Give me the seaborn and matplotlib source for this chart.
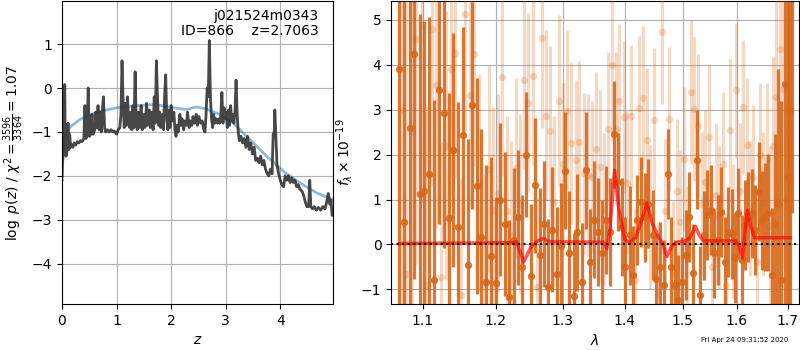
import matplotlib
matplotlib.use("Agg")
import matplotlib.pyplot as plt
from matplotlib.ticker import FixedLocator, FormatStrFormatter, NullLocator
import numpy as np
import pandas as pd
import seaborn as sns

# ---------------- left panel data: log p(z) ----------------
z_grid = [0.00, 0.01, 0.02, 0.035, 0.05, 0.06, 0.075, 0.09, 0.11, 0.125,
          0.14, 0.16, 0.18, 0.20, 0.22, 0.25, 0.28, 0.31, 0.34, 0.37,
          0.40, 0.42, 0.44, 0.46, 0.48, 0.50, 0.53, 0.55, 0.57, 0.60,
          0.62, 0.64, 0.66, 0.68, 0.70, 0.72, 0.74, 0.76, 0.78, 0.80,
          0.83, 0.86, 0.90, 0.93, 0.96, 1.00, 1.03, 1.06, 1.08, 1.10,
          1.12, 1.14, 1.16, 1.18, 1.20, 1.22, 1.24, 1.26, 1.28, 1.30,
          1.32, 1.34, 1.36, 1.38, 1.40, 1.42, 1.45, 1.47, 1.50, 1.52,
          1.55, 1.57, 1.60, 1.62, 1.64, 1.67, 1.69, 1.71, 1.73, 1.75,
          1.77, 1.79, 1.81, 1.84, 1.86, 1.88, 1.90, 1.92, 1.94, 1.96,
          1.98, 2.00, 2.02, 2.05, 2.07, 2.09, 2.11, 2.13, 2.16, 2.18,
          2.20, 2.23, 2.25, 2.28, 2.30, 2.33, 2.35, 2.38, 2.40, 2.43,
          2.46, 2.48, 2.51, 2.54, 2.57, 2.60, 2.62, 2.64, 2.66, 2.68,
          2.70, 2.72, 2.74, 2.76, 2.78, 2.80, 2.82, 2.85, 2.87, 2.89,
          2.91, 2.93, 2.95, 2.97, 2.99, 3.01, 3.03, 3.05, 3.07, 3.09,
          3.11, 3.13, 3.15, 3.17, 3.19, 3.21, 3.23, 3.25, 3.28, 3.31,
          3.34, 3.37, 3.40, 3.43, 3.46, 3.49, 3.52, 3.55, 3.58, 3.61,
          3.64, 3.67, 3.70, 3.73, 3.76, 3.79, 3.82, 3.85, 3.87, 3.89,
          3.90, 3.92, 3.94, 3.97, 4.00, 4.03, 4.06, 4.09, 4.12, 4.15,
          4.18, 4.21, 4.24, 4.27, 4.30, 4.33, 4.36, 4.40, 4.43, 4.46,
          4.49, 4.52, 4.54, 4.56, 4.59, 4.62, 4.66, 4.70, 4.74, 4.78,
          4.82, 4.85, 4.88, 4.91, 4.93, 4.95, 4.97]
log_pz = [-2.10, -1.70, -1.55, -1.50, 0.08, -1.30, -1.55, -1.45, -0.80, -1.40,
          -1.05, -1.35, -1.30, -1.35, -1.25, -1.30, -1.22, -1.25, -1.20, -1.22,
          -1.15, -0.40, -1.15, -0.95, 0.00, -1.10, -1.05, -0.60, -1.05, -0.95,
          -0.55, -0.90, -0.40, -0.95, -0.55, -1.00, -0.50, -0.20, -0.90, -1.00,
          -0.95, -1.00, -0.95, -1.00, -0.98, -1.05, -0.95, -0.90, -0.60, 0.62,
          -0.30, -0.90, -0.35, -0.85, -0.20, -0.75, -0.90, -0.55, -0.95, -0.40,
          -0.90, 0.37, -0.80, -0.95, -0.55, -0.90, -0.40, -0.95, -0.60, -0.90,
          -0.35, -0.85, -0.50, -0.90, -0.55, -0.95, -0.20, -0.80, 0.62, -0.20,
          -0.85, -0.55, -0.90, -0.60, -0.95, -0.20, 0.30, -0.70, -0.95, -0.50,
          -0.90, -0.40, -0.75, -0.55, -0.95, -1.10, -0.85, -1.00, -0.60, -0.85,
          -0.70, -0.95, -0.75, -0.85, -0.55, -0.90, -0.75, -0.85, -0.65, -0.80,
          -0.60, -0.85, -0.65, -0.80, -0.75, -0.95, -1.00, -0.60, 0.00, -0.20,
          1.08, -0.20, -0.70, -0.90, -0.60, -0.80, -0.70, -0.80, -0.70, -0.80,
          -0.65, -0.10, -0.80, -0.45, -0.70, -0.55, -0.90, -0.50, -0.85, -0.40,
          -0.75, -0.60, -0.80, -0.55, 0.18, -0.60, -1.00, -1.20, -1.10, -1.25,
          -1.15, -1.35, -1.10, -1.40, -1.25, -1.50, -1.35, -1.65, -1.60, -1.70,
          -1.55, -1.75, -1.65, -1.85, -1.95, -2.00, -1.85, -1.95, -1.05, -1.00,
          -0.50, -1.10, -1.75, -1.95, -2.10, -2.20, -2.25, -2.00, -2.10, -2.00,
          -2.15, -2.05, -2.15, -2.10, -2.25, -2.20, -2.30, -2.35, -2.45, -2.60,
          -2.70, -2.70, -2.10, -2.70, -2.75, -2.70, -2.78, -2.72, -2.78, -2.70,
          -2.75, -2.60, -2.40, -2.65, -2.55, -2.90, -2.85]

# smooth chi^2-based curve
z_chi = [0.00, 0.05, 0.14, 0.32, 0.63, 1.00, 1.30, 1.61, 1.73, 1.91,
         2.10, 2.28, 2.46, 2.65, 2.89, 3.14, 3.44, 3.75, 4.06, 4.36,
         4.67, 4.97]
chi_curve = [-1.60, -1.10, -0.90, -0.72, -0.55, -0.45, -0.41, -0.38, -0.38, -0.42,
             -0.46, -0.49, -0.43, -0.48, -0.60, -0.80, -1.17, -1.55, -1.90, -2.16,
             -2.39, -2.54]

# ---------------- right panel data: spectrum ----------------
wave_a = [1.070, 1.076, 1.083, 1.089, 1.096, 1.102, 1.109, 1.115, 1.122, 1.128,
          1.135, 1.141, 1.148, 1.154, 1.161, 1.167, 1.174, 1.180, 1.187, 1.193,
          1.200, 1.206, 1.213, 1.219, 1.226, 1.232, 1.239, 1.245, 1.252, 1.258,
          1.265, 1.271, 1.278, 1.284, 1.291, 1.297, 1.304, 1.310, 1.317, 1.323,
          1.330, 1.336, 1.343, 1.349, 1.356, 1.362, 1.369, 1.375, 1.382, 1.388,
          1.395, 1.401, 1.408, 1.414, 1.421, 1.427, 1.434, 1.440, 1.447, 1.453,
          1.460, 1.466, 1.473, 1.479, 1.486, 1.492, 1.499, 1.505, 1.512, 1.518,
          1.525, 1.531, 1.538, 1.544, 1.551, 1.557, 1.564, 1.570, 1.577, 1.583,
          1.590, 1.596, 1.603, 1.609, 1.616, 1.622, 1.629, 1.635, 1.642, 1.648,
          1.655, 1.661, 1.668, 1.674, 1.681, 1.687, 1.694, 1.700, 1.704, 1.708]
flux_a = [3.90, 0.50, 2.60, 4.23, 1.13, 1.18, 1.57, -0.79, 3.45, 2.92,
          0.58, 2.10, 0.38, 2.44, -0.46, 3.10, 1.30, 0.17, -0.83, -0.26,
          -0.85, 1.00, 0.45, -1.16, 0.10, 0.60, -0.50, 2.00, -0.70, 1.32,
          -0.24, 0.45, -0.94, 0.33, -0.66, -0.03, 1.64, -0.20, -1.15, 0.27,
          -0.83, 1.65, -0.40, 0.55, 0.27, -0.20, 0.54, 0.27, 2.45, 1.39,
          0.39, -0.50, 0.20, -0.68, 0.55, 0.95, 0.60, 0.91, 0.21, -0.77,
          -0.50, -0.90, 1.56, -0.50, -0.90, -1.24, -0.84, -0.24, 0.61, -0.64,
          1.89, -1.13, 0.20, 0.65, 0.76, -0.20, 0.10, 0.73, -0.39, 0.27,
          0.24, -0.31, 0.70, -0.35, 0.43, 0.61, 0.69, 0.33, 1.17, 0.54,
          0.61, 0.71, -0.68, 0.45, 0.90, -0.80, 3.58, 1.50, 3.00, 6.00]
err_a = [7.0, 7.0, 6.0, 5.0, 4.0, 3.8, 3.5, 4.0, 3.0, 3.0,
         2.8, 2.6, 2.8, 2.4, 2.8, 2.3, 2.4, 2.4, 2.6, 2.2,
         1.9, 1.7, 1.6, 1.7, 1.6, 1.5, 1.6, 1.4, 1.6, 1.5,
         1.5, 1.4, 1.5, 1.4, 1.5, 1.4, 1.3, 1.4, 1.4, 1.3,
         1.3, 1.3, 1.2, 1.3, 1.2, 1.2, 1.2, 1.2, 1.2, 1.1,
         1.1, 1.1, 1.1, 1.1, 1.0, 1.0, 1.0, 1.0, 1.0, 1.0,
         1.0, 1.0, 1.0, 1.1, 1.0, 1.0, 1.0, 1.0, 1.0, 1.1,
         1.1, 1.1, 1.0, 1.0, 1.0, 1.0, 1.0, 1.0, 1.0, 1.0,
         1.0, 1.0, 1.0, 1.0, 1.0, 1.0, 1.0, 1.0, 1.1, 1.1,
         1.2, 1.3, 1.5, 2.0, 3.0, 4.0, 5.0, 6.0, 6.5, 5.3]

wave_b = [1.073, 1.079, 1.086, 1.092, 1.099, 1.105, 1.112, 1.118, 1.125, 1.131,
          1.138, 1.144, 1.151, 1.157, 1.164, 1.170, 1.177, 1.183, 1.190, 1.196,
          1.203, 1.209, 1.216, 1.222, 1.229, 1.235, 1.242, 1.248, 1.255, 1.261,
          1.268, 1.274, 1.281, 1.287, 1.294, 1.300, 1.307, 1.313, 1.320, 1.326,
          1.333, 1.339, 1.346, 1.352, 1.359, 1.365, 1.372, 1.378, 1.385, 1.391,
          1.398, 1.404, 1.411, 1.417, 1.424, 1.430, 1.437, 1.443, 1.450, 1.456,
          1.463, 1.469, 1.476, 1.482, 1.489, 1.495, 1.502, 1.508, 1.515, 1.521,
          1.528, 1.534, 1.541, 1.547, 1.554, 1.560, 1.567, 1.573, 1.580, 1.586,
          1.593, 1.599, 1.606, 1.612, 1.619, 1.625, 1.632, 1.638, 1.645, 1.651,
          1.658, 1.664, 1.671, 1.677, 1.684, 1.690, 1.697, 1.703]
flux_b = [3.00, -0.66, 2.50, 4.57, 4.89, -0.91, 4.80, 3.56, -0.72, 2.20,
          3.90, 4.27, -1.13, 5.13, 3.33, 4.24, 1.39, -0.83, 1.69, 0.76,
          1.15, 3.73, 0.75, 0.20, 1.70, 0.91, 3.67, 3.16, 3.76, -0.94,
          4.60, 2.87, 2.52, 0.95, 3.20, 1.80, 2.98, 2.26, 1.87, 2.28,
          1.58, 1.54, 1.50, 2.13, 1.73, 0.79, 2.58, 4.00, 2.58, 3.20,
          2.84, 1.37, 2.85, -0.79, 3.04, 3.27, 2.32, 0.61, 2.78, -1.10,
          4.73, 0.75, 2.79, -0.64, 1.20, 0.50, 1.90, -0.30, 3.39, 3.02,
          2.63, 0.90, 1.40, 2.39, -0.50, 1.10, 0.60, 1.80, -0.90, 2.54,
          0.30, 3.43, 1.20, 3.06, 2.21, 0.80, 1.50, -0.40, 2.00, 0.90,
          1.90, 0.40, 2.20, 3.28, 4.36, 3.47, 1.00, 2.50]
err_b = [7.0, 6.5, 6.0, 5.0, 4.0, 4.0, 3.5, 3.2, 3.0, 3.0,
         2.8, 2.8, 2.6, 2.6, 2.5, 2.5, 2.4, 2.4, 2.3, 2.3,
         2.2, 2.2, 2.1, 2.1, 2.0, 2.0, 2.0, 2.0, 2.0, 2.0,
         2.0, 1.9, 1.9, 1.9, 1.9, 1.8, 1.8, 1.8, 1.8, 1.8,
         1.8, 1.8, 1.7, 1.7, 1.7, 1.7, 1.7, 1.7, 1.7, 1.7,
         1.7, 1.6, 1.6, 1.6, 1.6, 1.6, 1.6, 1.6, 1.6, 1.6,
         1.6, 1.6, 1.6, 1.6, 1.6, 1.6, 1.6, 1.6, 1.6, 1.6,
         1.6, 1.6, 1.6, 1.6, 1.6, 1.6, 1.6, 1.6, 1.6, 1.6,
         1.5, 1.5, 1.5, 1.5, 1.5, 1.5, 1.6, 1.6, 1.6, 1.6,
         1.7, 1.8, 2.0, 2.5, 3.0, 4.0, 5.0, 6.0]

model_wave = [1.070, 1.225, 1.230, 1.241, 1.252, 1.262, 1.270, 1.280, 1.365, 1.370,
              1.375, 1.383, 1.390, 1.400, 1.408, 1.418, 1.426, 1.437, 1.447, 1.458,
              1.465, 1.472, 1.480, 1.490, 1.505, 1.513, 1.523, 1.530, 1.537, 1.598,
              1.605, 1.611, 1.615, 1.620, 1.627, 1.634, 1.705]
model_flux = [0.02, 0.04, 0.06, -0.39, -0.05, 0.08, 0.13, 0.06, 0.05, -0.10,
              0.30, 1.65, 0.80, 0.10, 0.05, 0.15, 0.45, 0.92, 0.45, 0.15,
              0.00, -0.27, -0.05, 0.05, 0.08, 0.15, 0.40, 0.20, 0.08, 0.08,
              -0.05, -0.30, 0.20, 0.76, 0.40, 0.15, 0.15]

wave_ticks = [1.1, 1.2, 1.3, 1.4, 1.5, 1.6, 1.7]

# ---------------- figure ----------------
plt.rcParams['font.family'] = ['DejaVu Sans']
fig = plt.figure(figsize=(8, 3.5), dpi=100)
ax1 = fig.add_axes([0.0775, 0.131, 0.339, 0.866])
ax2 = fig.add_axes([0.489, 0.131, 0.5095, 0.866])

df_pz = pd.DataFrame({"z": z_grid, "logpz": log_pz})
df_chi = pd.DataFrame({"z": z_chi, "chi": chi_curve})
sns.lineplot(data=df_chi, x="z", y="chi", ax=ax1, color="#1f77b4", alpha=0.5,
             lw=2, estimator=None, sort=False)
sns.lineplot(data=df_pz, x="z", y="logpz", ax=ax1, color="0.2", alpha=0.9,
             lw=2.0, estimator=None, sort=False)
ax1.set_xlim(0, 4.97)
ax1.set_ylim(-4.92, 1.98)
ax1.set_xticks([0, 1, 2, 3, 4])
ax1.set_yticks([-4, -3, -2, -1, 0, 1])
ax1.grid(True, color="#b0b0b0", lw=0.8)
ax1.set_axisbelow(True)
ax1.set_xlabel("$z$")
ax1.set_ylabel(r"$\log\ p(z)$ / $\chi^2=\frac{3596}{3364}=1.07$")
ax1.text(0.945, 0.975, "j021524m0343\nID=866    z=2.7063", transform=ax1.transAxes,
         ha="right", va="top", fontsize=10, linespacing=1.15)

col = "#d8681a"
# dark beam
wa, fa, ea = np.array(wave_a), np.array(flux_a), np.array(err_a)
ax2.vlines(wa, fa - ea, fa + ea, color=col, alpha=0.9, lw=2.3, zorder=2)
sns.scatterplot(x=wa, y=fa, ax=ax2, color=col, alpha=0.9, s=28, linewidth=0, zorder=3)
# light beam
wb, fb, eb = np.array(wave_b), np.array(flux_b), np.array(err_b)
ax2.vlines(wb, fb - eb, fb + eb, color=col, alpha=0.25, lw=2.3, zorder=4)
sns.scatterplot(x=wb, y=fb, ax=ax2, color=col, alpha=0.25, s=28, linewidth=0, zorder=4)
# model
df_model = pd.DataFrame({"w": model_wave, "f": model_flux})
sns.lineplot(data=df_model, x="w", y="f", ax=ax2, color="red", alpha=0.65, lw=2.5,
             estimator=None, sort=False, zorder=6)
ax2.axhline(0, color="k", ls=":", lw=1.5, zorder=7)

ax2.set_xscale("log")
ax2.set_xlim(1.0596, 1.7226)
ax2.set_ylim(-1.33, 5.42)
ax2.xaxis.set_major_locator(FixedLocator(wave_ticks))
ax2.xaxis.set_major_formatter(FormatStrFormatter("%.1f"))
ax2.xaxis.set_minor_locator(NullLocator())
ax2.set_yticks([-1, 0, 1, 2, 3, 4, 5])
ax2.grid(True, color="#b0b0b0", lw=0.8)
ax2.set_axisbelow(True)
ax2.set_xlabel(r"$\lambda$")
ax2.set_ylabel(r"$f_\lambda\times10^{-19}$")

fig.text(0.985, 0.02, "Fri Apr 24 09:31:52 2020", ha="right", va="bottom", fontsize=5)

fig.savefig("out.png", dpi=100)
